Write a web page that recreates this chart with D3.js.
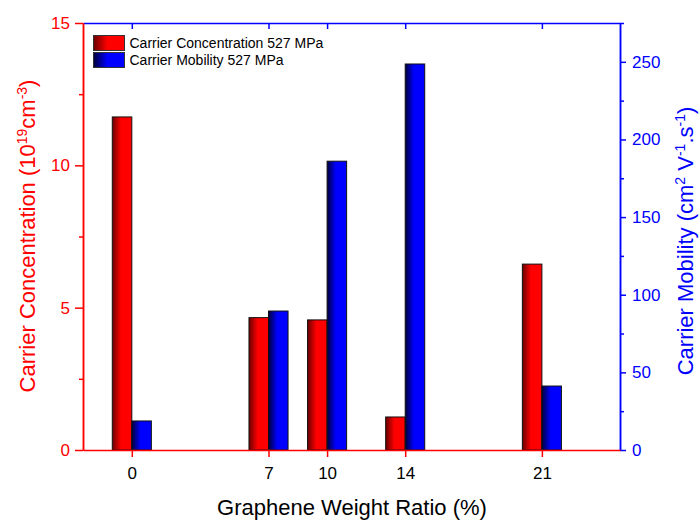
<!DOCTYPE html>
<html>
<head>
<meta charset="utf-8">
<script src="https://cdn.jsdelivr.net/npm/d3@7"></script>
<style>
  body { margin: 0; background: #fff; }
  svg text { font-family: "Liberation Sans", Arial, sans-serif; }
</style>
</head>
<body>
<div class="plot"></div>
<script>
// data
const ratios = [0, 7, 10, 14, 21];
const concentration = [11.7, 4.65, 4.57, 1.16, 6.53];   // 10^19 cm^-3
const mobility = [18.7, 89.5, 186, 248.6, 41.2];         // cm2 V-1 s-1
const leftTicks = [0, 5, 10, 15];
const rightTicks = [0, 50, 100, 150, 200, 250];

const width = 700, height = 522;
const plot = {left: 83, right: 620, top: 23, bottom: 450};

const svg = d3.select('.plot').append('svg')
    .attr('width', width)
    .attr('height', height);

const xScale = d3.scaleLinear().domain([-2.5, 25]).range([plot.left, plot.right]);
const yLeft = d3.scaleLinear().domain([0, 15]).range([plot.bottom, plot.top]);
const yRight = d3.scaleLinear().domain([0, 275]).range([plot.bottom, plot.top]);

// gradients for the bars
const defs = svg.append('defs');
function grad(id, dark, bright) {
    const g = defs.append('linearGradient').attr('id', id)
        .attr('x1', '0%').attr('x2', '100%').attr('y1', '0%').attr('y2', '0%');
    g.append('stop').attr('offset', '0%').attr('stop-color', dark);
    g.append('stop').attr('offset', '45%').attr('stop-color', bright);
    g.append('stop').attr('offset', '100%').attr('stop-color', bright);
}
grad('gRed', '#6a0000', '#ff0000');
grad('gBlue', '#00003a', '#0000ff');

const barW = xScale(1) - xScale(0);

// red bars (left of the tick)
svg.append('g').selectAll('rect')
    .data(ratios)
    .enter().append('rect')
    .attr('x', (d) => xScale(d) - barW)
    .attr('y', (d, i) => yLeft(concentration[i]))
    .attr('width', barW)
    .attr('height', (d, i) => plot.bottom - yLeft(concentration[i]))
    .attr('fill', 'url(#gRed)')
    .attr('stroke', '#111')
    .attr('stroke-width', 1);

// blue bars (right of the tick)
svg.append('g').selectAll('rect')
    .data(ratios)
    .enter().append('rect')
    .attr('x', (d) => xScale(d))
    .attr('y', (d, i) => yRight(mobility[i]))
    .attr('width', barW)
    .attr('height', (d, i) => plot.bottom - yRight(mobility[i]))
    .attr('fill', 'url(#gBlue)')
    .attr('stroke', '#111')
    .attr('stroke-width', 1);

// top axis (blue, inward ticks, no labels)
svg.append('g')
    .attr('transform', 'translate(0,' + plot.top + ')')
    .call(d3.axisBottom(xScale).tickValues(ratios).tickSize(6).tickSizeOuter(0).tickFormat(''))
    .call(g => g.selectAll('line, path').attr('stroke', '#0000ff').attr('stroke-width', 1.5));

// left axis
svg.append('g')
    .attr('transform', 'translate(' + plot.left + ',0)')
    .call(d3.axisLeft(yLeft).tickValues([2.5, 7.5, 12.5]).tickSize(4).tickSizeOuter(0).tickFormat(''))
    .call(g => g.selectAll('line, path').attr('stroke', '#ff0000').attr('stroke-width', 1.5));

svg.append('g')
    .attr('transform', 'translate(' + plot.left + ',0)')
    .call(d3.axisLeft(yLeft).tickValues(leftTicks).tickSize(8).tickSizeOuter(0).tickPadding(5))
    .call(g => g.selectAll('line, path').attr('stroke', '#ff0000').attr('stroke-width', 1.5))
    .call(g => g.selectAll('text').attr('fill', '#ff0000').style('font-size', '17px'));

// right axis
svg.append('g')
    .attr('transform', 'translate(' + plot.right + ',0)')
    .call(d3.axisRight(yRight).tickValues([25, 75, 125, 175, 225, 275]).tickSize(4).tickSizeOuter(0).tickFormat(''))
    .call(g => g.selectAll('line, path').attr('stroke', '#0000ff').attr('stroke-width', 1.5));

svg.append('g')
    .attr('transform', 'translate(' + plot.right + ',0)')
    .call(d3.axisRight(yRight).tickValues(rightTicks).tickSize(6).tickSizeOuter(0).tickPadding(6))
    .call(g => g.selectAll('line, path').attr('stroke', '#0000ff').attr('stroke-width', 1.5))
    .call(g => g.selectAll('text').attr('fill', '#0000ff').style('font-size', '17px'));

// bottom axis
svg.append('g')
    .attr('transform', 'translate(0,' + plot.bottom + ')')
    .call(d3.axisBottom(xScale).tickValues(ratios).tickSize(7).tickSizeOuter(0).tickPadding(10))
    .call(g => g.selectAll('line, path').attr('stroke', '#ff0000').attr('stroke-width', 1.5))
    .call(g => g.selectAll('text').attr('fill', '#000').style('font-size', '17px'));

// axis titles
svg.append('text')
    .attr('x', 352)
    .attr('y', 515)
    .attr('text-anchor', 'middle')
    .style('font-size', '22px')
    .attr('fill', '#000')
    .text('Graphene Weight Ratio (%)');

const lt = svg.append('text')
    .attr('transform', 'translate(35,236) rotate(-90)')
    .attr('text-anchor', 'middle')
    .style('font-size', '22px')
    .attr('fill', '#ff0000');
lt.append('tspan').text('Carrier Concentration (10');
lt.append('tspan').attr('dy', -8).style('font-size', '14px').text('19');
lt.append('tspan').attr('dy', 8).text('cm');
lt.append('tspan').attr('dy', -8).style('font-size', '14px').text('-3');
lt.append('tspan').attr('dy', 8).text(')');

const rt = svg.append('text')
    .attr('transform', 'translate(693,241) rotate(-90)')
    .attr('text-anchor', 'middle')
    .style('font-size', '22px')
    .attr('fill', '#0000ff');
rt.append('tspan').text('Carrier Mobility (cm');
rt.append('tspan').attr('dy', -8).style('font-size', '14px').text('2');
rt.append('tspan').attr('dy', 8).text(' V');
rt.append('tspan').attr('dy', -8).style('font-size', '14px').text('-1');
rt.append('tspan').attr('dy', 8).text('.s');
rt.append('tspan').attr('dy', -8).style('font-size', '14px').text('-1');
rt.append('tspan').attr('dy', 8).text(')');

// legend
const legendItems = ['Carrier Concentration 527 MPa', 'Carrier Mobility 527 MPa'];
const legendFills = ['url(#gRed)', 'url(#gBlue)'];
const legend = svg.append('g').attr('transform', 'translate(93.5,35.5)');
const li = legend.selectAll('g')
    .data(legendItems)
    .enter().append('g')
    .attr('transform', (d, i) => 'translate(0,' + i * 17 + ')');
li.append('rect')
    .attr('width', 31)
    .attr('height', 15)
    .attr('fill', (d, i) => legendFills[i])
    .attr('stroke', '#333')
    .attr('stroke-width', 1);
li.append('text')
    .attr('x', 36)
    .attr('y', 12)
    .style('font-size', '14px')
    .attr('fill', '#000')
    .text(d => d);
</script>
</body>
</html>
